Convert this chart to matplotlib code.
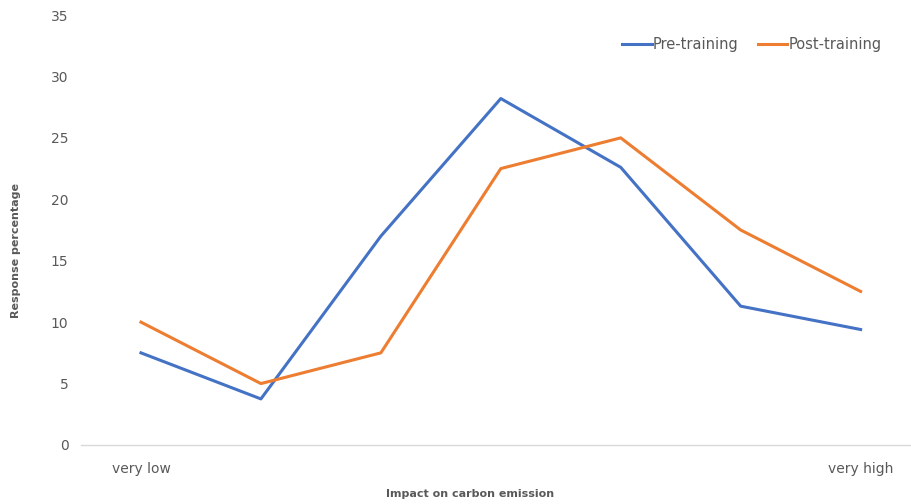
import matplotlib.pyplot as plt
import numpy as np

categories = ['very low', '', '', '', '', '', 'very high']
pre_training = [7.5, 3.75, 17, 28.2, 22.6, 11.3, 9.4]
post_training = [10, 5, 7.5, 22.5, 25, 17.5, 12.5]

W, H = 911, 504
fig = plt.figure(figsize=(W / 100, H / 100), dpi=100)
# axes box in pixels: left 81, right 911, y=0 at 445, y=35 at 15
ax = fig.add_axes([81 / W, (H - 445) / H, (W - 81) / W, (445 - 15) / H])

x = np.arange(len(categories))
ax.plot(x, pre_training, color='#4472c4', lw=2.2, label='Pre-training', solid_joinstyle='round')
ax.plot(x, post_training, color='#ed7d31', lw=2.2, label='Post-training', solid_joinstyle='round')

ax.set_xlim(-0.5, 6.42)
ax.set_ylim(0, 35)
ax.set_yticks(np.arange(0, 36, 5))
ax.set_xticks(x)
ax.set_xticklabels(categories)

for s in ['top', 'right', 'left']:
    ax.spines[s].set_visible(False)
ax.spines['bottom'].set_color('#d9d9d9')
ax.spines['bottom'].set_linewidth(1)
ax.tick_params(axis='both', length=0, colors='#595959', labelsize=10)
ax.tick_params(axis='x', pad=12)
ax.tick_params(axis='y', pad=9)

fig.text(470 / W, 1 - 494 / H, 'Impact on carbon emission', ha='center', va='center',
         fontsize=8, fontweight='bold', color='#595959')
fig.text(16 / W, 1 - 250 / H, 'Response percentage', ha='center', va='center', rotation=90,
         fontsize=8, fontweight='bold', color='#595959')

leg = ax.legend(loc='center', bbox_to_anchor=((752 - 81) / (W - 81), (445 - 45) / 430),
                ncol=2, frameon=False, fontsize=10.5, handlelength=2.0, handletextpad=0.1,
                columnspacing=1.3)
for t in leg.get_texts():
    t.set_color('#595959')

fig.savefig('out.png', dpi=100)
